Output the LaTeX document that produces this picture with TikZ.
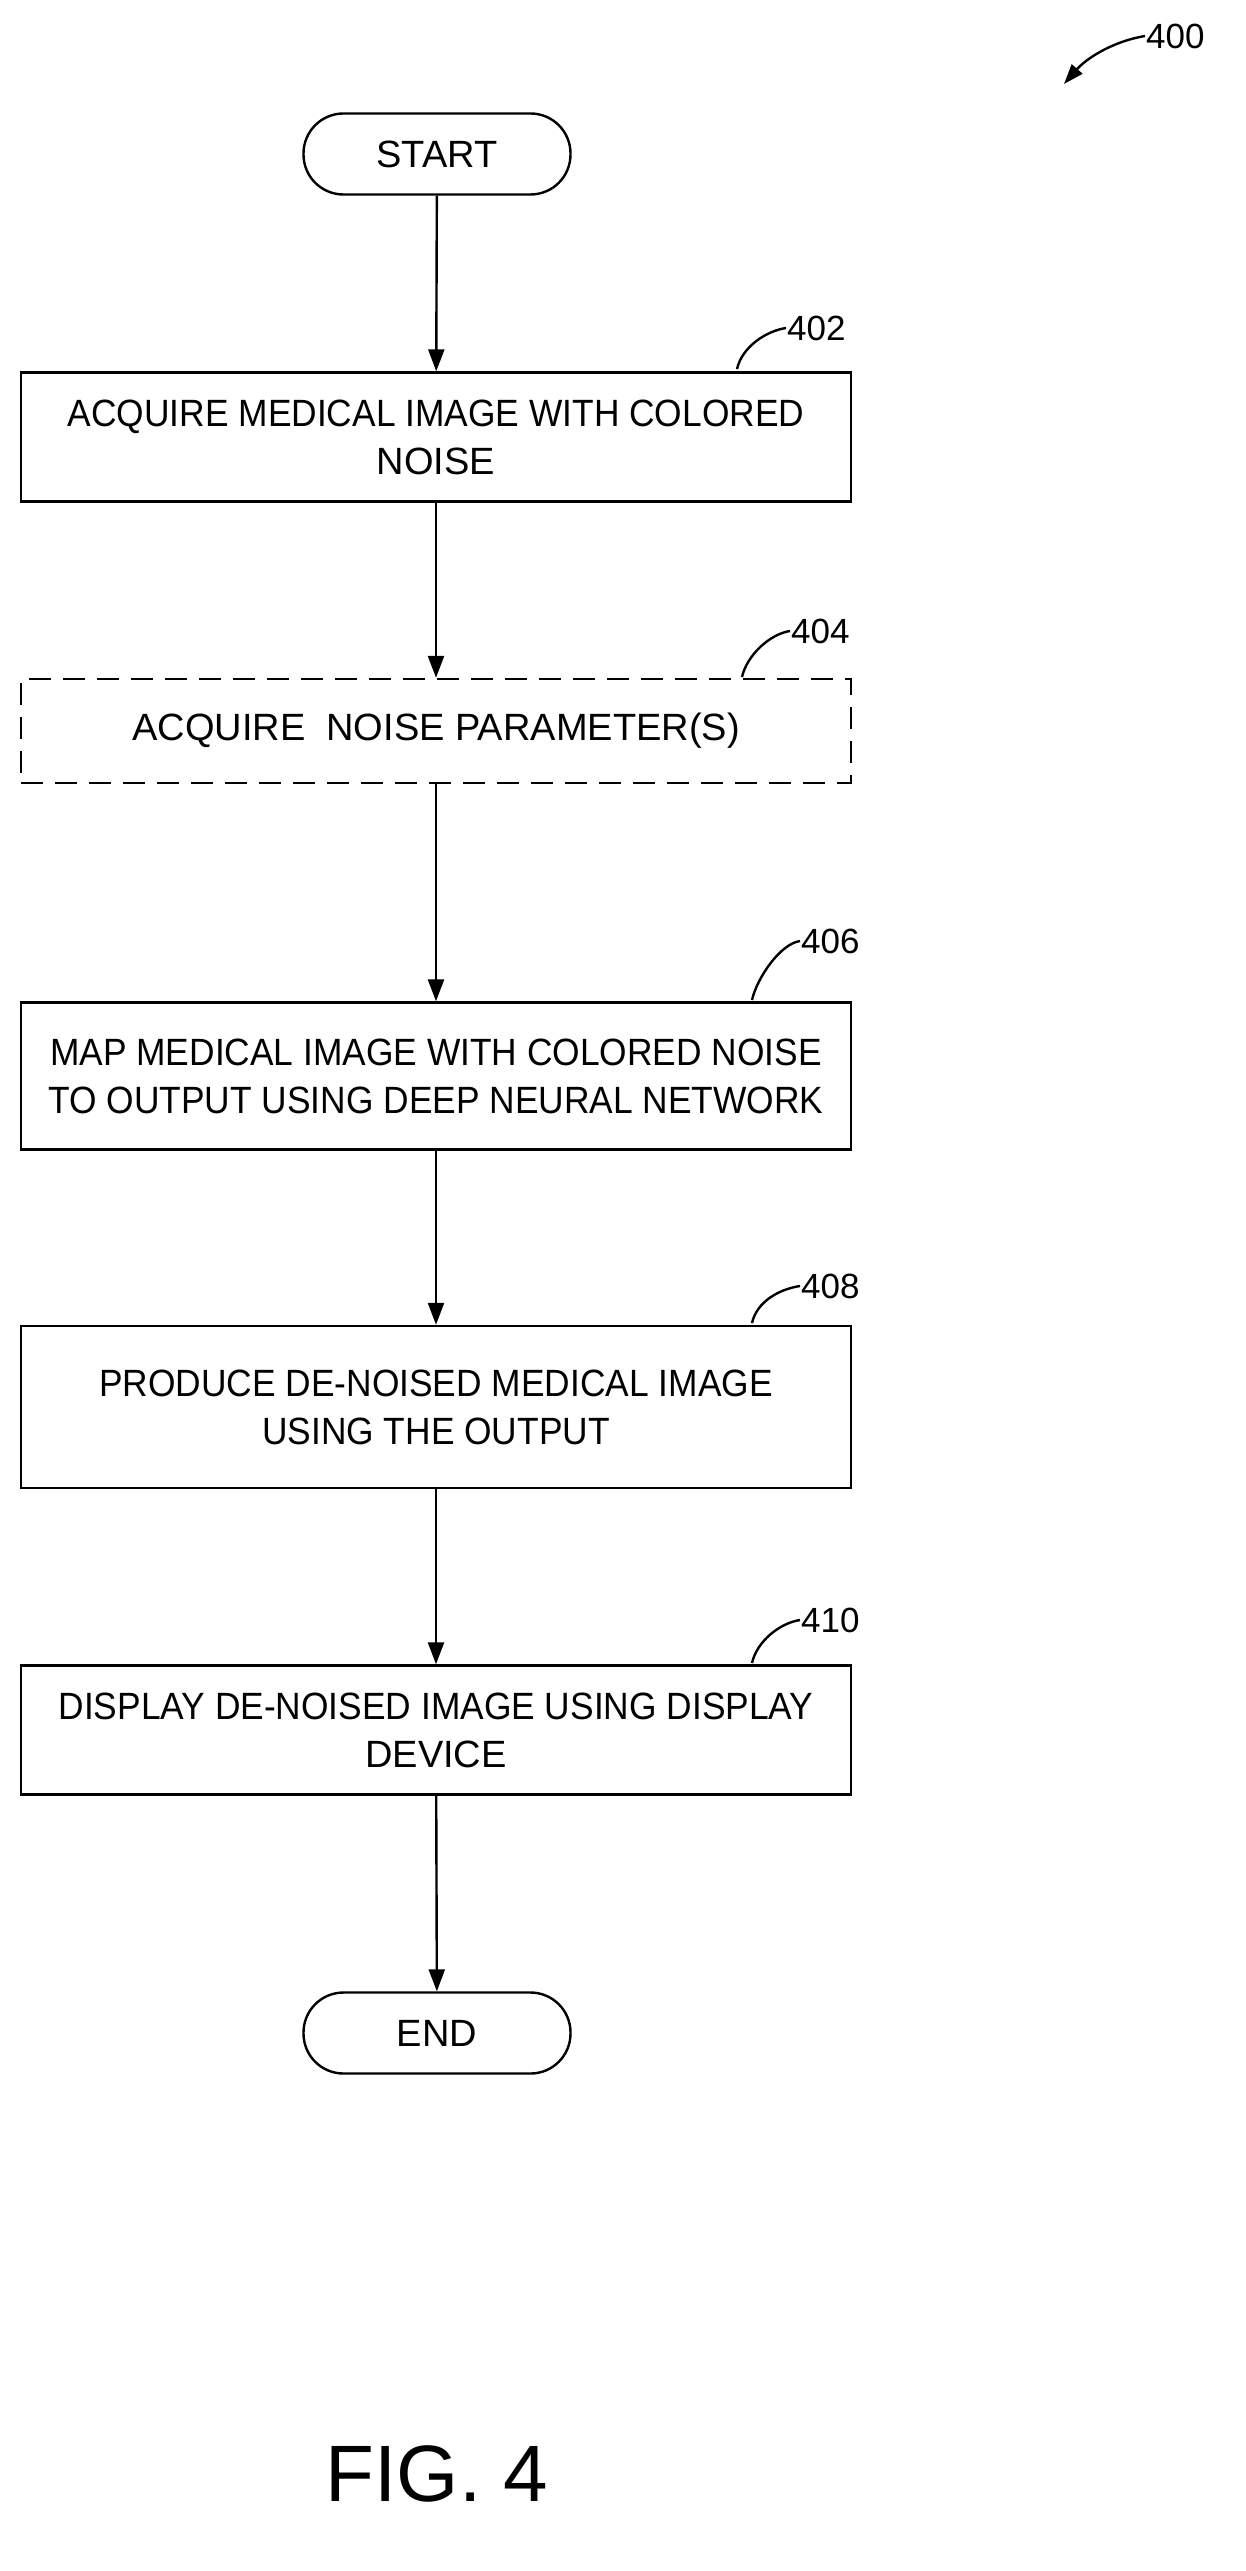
\documentclass[tikz,border=0pt]{standalone}
\usepackage{fontspec}
\setmainfont{Liberation Sans}
\usetikzlibrary{arrows.meta,calc}
\begin{document}
\begin{tikzpicture}[x=1pt,y=1pt,
  box/.style={draw,line width=2.4pt,minimum width=830pt,align=center,font=\fontsize{38}{48}\selectfont,inner sep=0pt},
  term/.style={draw,line width=2.4pt,rounded corners=40pt,minimum width=267pt,minimum height=81pt,font=\fontsize{38}{46}\selectfont},
  arr/.style={line width=2.4pt,-{Triangle[length=22pt,width=16pt]}},
  lead/.style={line width=2.4pt},
  lbl/.style={font=\fontsize{35}{40}\selectfont,anchor=west,inner sep=1pt}]
\useasboundingbox (0,0) rectangle (1245,-2571);
\node[term] (start) at (437,-154) {START};
\node[box,minimum height=129pt] (b402) at (436,-437) {\scalebox{0.93}[1]{ACQUIRE MEDICAL IMAGE WITH COLORED}\\NOISE};
\node[box,minimum height=104pt,dashed,dash pattern=on 22pt off 12pt] (b404) at (436,-731) {ACQUIRE\ \ NOISE PARAMETER(S)};
\node[box,minimum height=147pt] (b406) at (436,-1076) {\scalebox{0.93}[1]{MAP MEDICAL IMAGE WITH COLORED NOISE}\\\scalebox{0.93}[1]{TO OUTPUT USING DEEP NEURAL NETWORK}};
\node[box,minimum height=162pt] (b408) at (436,-1407) {\scalebox{0.93}[1]{PRODUCE DE-NOISED MEDICAL IMAGE}\\\scalebox{0.93}[1]{USING THE OUTPUT}};
\node[box,minimum height=129pt] (b410) at (436,-1730) {\scalebox{0.93}[1]{DISPLAY DE-NOISED IMAGE USING DISPLAY}\\DEVICE};
\node[term] (end) at (437,-2033) {END};
\draw[arr] (start) -- (b402);
\draw[arr] (b402) -- (b404);
\draw[arr] (b404) -- (b406);
\draw[arr] (b406) -- (b408);
\draw[arr] (b408) -- (b410);
\draw[arr] (b410) -- (end);
\node[lbl] (l400) at (1145,-36) {400};
\node[lbl] (l402) at (786,-328) {402};
\node[lbl] (l404) at (790,-631) {404};
\node[lbl] (l406) at (800,-941) {406};
\node[lbl] (l408) at (800,-1286) {408};
\node[lbl] (l410) at (800,-1620) {410};
\coordinate (c402) at (737,-369);
\coordinate (c404) at (742,-677);
\coordinate (c406) at (752,-1000);
\coordinate (c408) at (752,-1323);
\coordinate (c410) at (752,-1663);
\coordinate (c400) at (1064,-84);
\foreach \n in {402,404,406,408,410}{
  \draw[lead] (c\n) .. controls ($(c\n)+(5,22)$) and ($(l\n.west)+(-20,-3)$) .. (l\n.west);
}
\draw[line width=2.4pt,-{Triangle[length=20pt,width=14pt]}] (l400.west) .. controls (1110,-42) and (1085,-60) .. (c400);
\node[font=\fontsize{80}{90}\selectfont] (fig) at (437,-2474) {FIG. 4};
\end{tikzpicture}
\end{document}
